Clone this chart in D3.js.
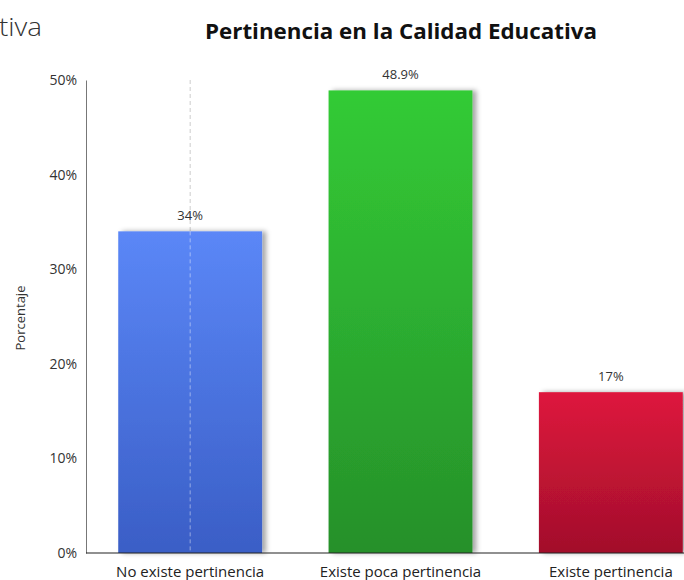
<!DOCTYPE html>
<html><head><meta charset="utf-8">
<script src="https://cdn.jsdelivr.net/npm/d3@7"></script>
<style>body{margin:0;background:#fff;overflow:hidden}svg{display:block}</style>
</head><body>
<svg id="c" width="684" height="580"></svg>
<script>
const categories = ["No existe pertinencia", "Existe poca pertinencia", "Existe pertinencia"];
const values = [34, 48.9, 17];
const valueLabels = ["34%", "48.9%", "17%"];
const yTicks = [0, 10, 20, 30, 40, 50];
const topColors = ["#5b87f7", "#33cb36", "#de163d"];
const bottomColors = ["#3a5ec6", "#26902a", "#a20f2b"];

const svg = d3.select("#c");
const font = "'Open Sans', 'Noto Sans', sans-serif";
const x = d3.scaleBand().domain(categories).range([85, 716]).paddingInner(0.316).paddingOuter(0.158);
const y = d3.scaleLinear().domain([0, 50]).range([553, 80]);

const defs = svg.append("defs");
categories.forEach((c, i) => {
  const g = defs.append("linearGradient").attr("id", "g" + i).attr("x1", 0).attr("y1", 0).attr("x2", 0).attr("y2", 1);
  g.append("stop").attr("offset", "0%").attr("stop-color", topColors[i]);
  g.append("stop").attr("offset", "100%").attr("stop-color", bottomColors[i]);
});
const f = defs.append("filter").attr("id", "sh").attr("x", "-10%").attr("y", "-10%").attr("width", "130%").attr("height", "120%");
f.append("feDropShadow").attr("dx", 4).attr("dy", 0).attr("stdDeviation", 2.5).attr("flood-color", "#000").attr("flood-opacity", 0.35);

// partial heading on the left
svg.append("text").attr("x", -1).attr("y", 36).attr("font-family", font).attr("font-weight", 300)
  .attr("font-size", 26).attr("fill", "#333").attr("textLength", 43).attr("lengthAdjust", "spacingAndGlyphs").text("tiva");

// title
svg.append("text").attr("x", 401).attr("y", 39).attr("text-anchor", "middle").attr("font-family", font)
  .attr("font-weight", 700).attr("font-size", 21).attr("fill", "#111")
  .attr("textLength", 392).attr("lengthAdjust", "spacingAndGlyphs").text("Pertinencia en la Calidad Educativa");

// dashed gridline at first category centre
svg.append("line").attr("x1", x(categories[0]) + x.bandwidth() / 2).attr("x2", x(categories[0]) + x.bandwidth() / 2)
  .attr("y1", y(50)).attr("y2", y(0)).attr("stroke", "#ccc").attr("stroke-dasharray", "4,3").attr("stroke-width", 1);

// bars
svg.selectAll("rect.bar").data(values).enter().append("rect").attr("class", "bar")
  .attr("x", (d, i) => x(categories[i])).attr("width", x.bandwidth())
  .attr("y", d => y(d)).attr("height", d => y(0) - y(d))
  .attr("fill", (d, i) => "url(#g" + i + ")").attr("filter", "url(#sh)");

// redraw dashed line over the first bar
svg.append("line").attr("x1", x(categories[0]) + x.bandwidth() / 2).attr("x2", x(categories[0]) + x.bandwidth() / 2)
  .attr("y1", y(values[0])).attr("y2", y(0)).attr("stroke", "rgba(255,255,255,0.45)").attr("stroke-dasharray", "4,3");

// value labels
svg.selectAll("text.vl").data(values).enter().append("text").attr("class", "vl")
  .attr("x", (d, i) => x(categories[i]) + x.bandwidth() / 2).attr("y", d => y(d) - 11)
  .attr("text-anchor", "middle").attr("font-family", font).attr("font-size", 13).attr("fill", "#333")
  .text((d, i) => valueLabels[i]);

// y axis
const ya = svg.append("g").attr("transform", "translate(86,0)")
  .call(d3.axisLeft(y).tickValues(yTicks).tickSize(0).tickPadding(9).tickFormat(d => d + "%"));
ya.select(".domain").attr("stroke", "#777").attr("stroke-width", 1);
ya.selectAll("text").attr("font-family", font).attr("font-size", 14).attr("fill", "#333");

// x axis
const xa = svg.append("g").attr("transform", "translate(0,553)")
  .call(d3.axisBottom(x).tickSize(0).tickPadding(13));
xa.select(".domain").attr("stroke", "#222").attr("stroke-width", 1.2).attr("d", "M86,0H684");
xa.selectAll("text").attr("font-family", font).attr("font-size", 15).attr("fill", "#222");

// y label
svg.append("text").attr("transform", "translate(25,318) rotate(-90)").attr("text-anchor", "middle")
  .attr("font-family", font).attr("font-size", 13).attr("fill", "#333").text("Porcentaje");
</script>
</body></html>
